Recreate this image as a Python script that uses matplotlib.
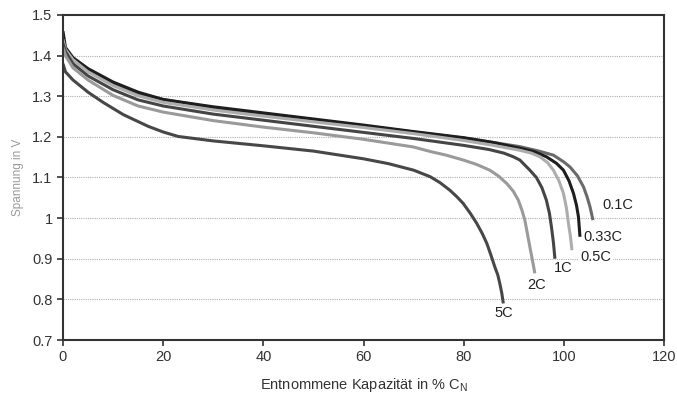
import numpy as np
import matplotlib
matplotlib.use("Agg")
import matplotlib.pyplot as plt

plt.rcParams["font.family"] = ["Liberation Sans", "DejaVu Sans"]

# discharge curves (x = % C_N, y = volts)
x_01 = [0, 0.5, 2, 5, 10, 15, 20, 30, 40, 50, 60, 70, 80, 86, 91.2, 95, 97.9, 100, 101.2, 102.7, 103.9, 104.6, 105.2, 105.8]
v_01 = [1.43, 1.41, 1.39, 1.365, 1.332, 1.307, 1.292, 1.272, 1.257, 1.242, 1.227, 1.212, 1.197, 1.186, 1.176, 1.165, 1.155, 1.138, 1.126, 1.104, 1.077, 1.053, 1.028, 0.995]

x_033 = [0, 0.5, 2, 5, 10, 15, 20, 30, 40, 50, 60, 70, 80, 86, 91.2, 94, 96.5, 98.5, 99.9, 101, 101.9, 102.5, 102.9, 103.2]
v_033 = [1.46, 1.42, 1.395, 1.368, 1.335, 1.31, 1.292, 1.274, 1.259, 1.244, 1.229, 1.213, 1.198, 1.186, 1.172, 1.164, 1.151, 1.135, 1.118, 1.092, 1.061, 1.032, 1.003, 0.954]

x_05 = [0, 0.5, 2, 5, 10, 15, 20, 30, 40, 50, 60, 70, 80, 86, 91.2, 93.5, 95.2, 96.7, 97.9, 99, 99.9, 100.5, 100.9, 101.3, 101.6]
v_05 = [1.44, 1.415, 1.39, 1.36, 1.326, 1.301, 1.285, 1.266, 1.251, 1.237, 1.223, 1.208, 1.191, 1.179, 1.167, 1.16, 1.151, 1.137, 1.118, 1.092, 1.061, 1.025, 0.987, 0.955, 0.921]

x_1 = [0, 0.5, 2, 5, 10, 15, 20, 30, 40, 50, 60, 70, 80, 85, 88, 89.9, 91.2, 93.2, 94.5, 95.6, 96.5, 97.1, 97.5, 97.9, 98.2]
v_1 = [1.43, 1.41, 1.38, 1.35, 1.316, 1.291, 1.276, 1.256, 1.241, 1.226, 1.211, 1.196, 1.179, 1.169, 1.16, 1.151, 1.143, 1.118, 1.1, 1.075, 1.044, 1.012, 0.979, 0.94, 0.90]

x_2 = [0, 0.5, 2, 5, 10, 15, 20, 30, 40, 50, 60, 70, 73.3, 76.5, 79.9, 82.6, 85.2, 87, 88.6, 89.9, 90.9, 91.6, 92.2, 92.7, 93.2, 93.7, 94.2]
v_2 = [1.42, 1.40, 1.37, 1.34, 1.302, 1.276, 1.261, 1.24, 1.224, 1.21, 1.194, 1.175, 1.164, 1.155, 1.143, 1.132, 1.118, 1.103, 1.085, 1.066, 1.044, 1.02, 0.995, 0.962, 0.929, 0.897, 0.864]

x_5 = [0, 0.5, 2, 5, 8, 12, 17, 20, 23, 30, 40, 50, 60, 65, 70, 73.3, 75.3, 77.2, 78.6, 79.9, 81.3, 82.6, 83.7, 84.6, 85.4, 86.2, 86.8, 87.2, 87.6, 87.9]
v_5 = [1.38, 1.36, 1.34, 1.31, 1.285, 1.255, 1.226, 1.212, 1.201, 1.19, 1.178, 1.165, 1.146, 1.134, 1.118, 1.102, 1.087, 1.069, 1.053, 1.036, 1.012, 0.987, 0.962, 0.938, 0.91, 0.88, 0.86, 0.839, 0.815, 0.79]

rates = ["0.1C", "0.33C", "0.5C", "1C", "2C", "5C"]
curves = [(x_01, v_01), (x_033, v_033), (x_05, v_05), (x_1, v_1), (x_2, v_2), (x_5, v_5)]
colors = ["#6a6a6a", "#1e1e1e", "#adadad", "#454545", "#9a9a9a", "#474747"]
label_pos = [(110.8, 1.032), (107.8, 0.953), (106.4, 0.904), (99.8, 0.877), (94.6, 0.835), (88.0, 0.766)]

fig = plt.figure(figsize=(6.77, 3.94), dpi=100)
ax = fig.add_axes([0.093, 0.137, 0.888, 0.825])

for y in np.arange(0.8, 1.45, 0.1):
    ax.axhline(y, color="#b0b0b0", linestyle=(0, (1, 1)), linewidth=0.8, zorder=0)

for (xs, vs), c in zip(curves, colors):
    ax.plot(xs, vs, color=c, linewidth=2.2, solid_capstyle="butt", solid_joinstyle="round", zorder=2)

for name, (lx, ly) in zip(rates, label_pos):
    ax.text(lx, ly, name, ha="center", va="center", fontsize=10.5, color="#222222",
            bbox=dict(facecolor="white", edgecolor="none", pad=1), zorder=3)

ax.set_xlim(0, 120)
ax.set_ylim(0.7, 1.5)
ax.set_xticks([0, 20, 40, 60, 80, 100, 120])
ax.set_yticks([0.7, 0.8, 0.9, 1.0, 1.1, 1.2, 1.3, 1.4, 1.5])
ax.set_yticklabels(["0.7", "0.8", "0.9", "1", "1.1", "1.2", "1.3", "1.4", "1.5"])
ax.tick_params(direction="out", length=4, width=1.2, labelsize=10.5, colors="#333333")
for s in ax.spines.values():
    s.set_linewidth(1.5)
    s.set_color("#333333")

ax.set_xlabel("Entnommene Kapazität in % C$_\\mathregular{N}$", fontsize=10.5, color="#333333", labelpad=8)
ax.set_ylabel("Spannung in V", fontsize=8.5, color="#9a9a9a", labelpad=6)

fig.savefig("out.png", dpi=100)
